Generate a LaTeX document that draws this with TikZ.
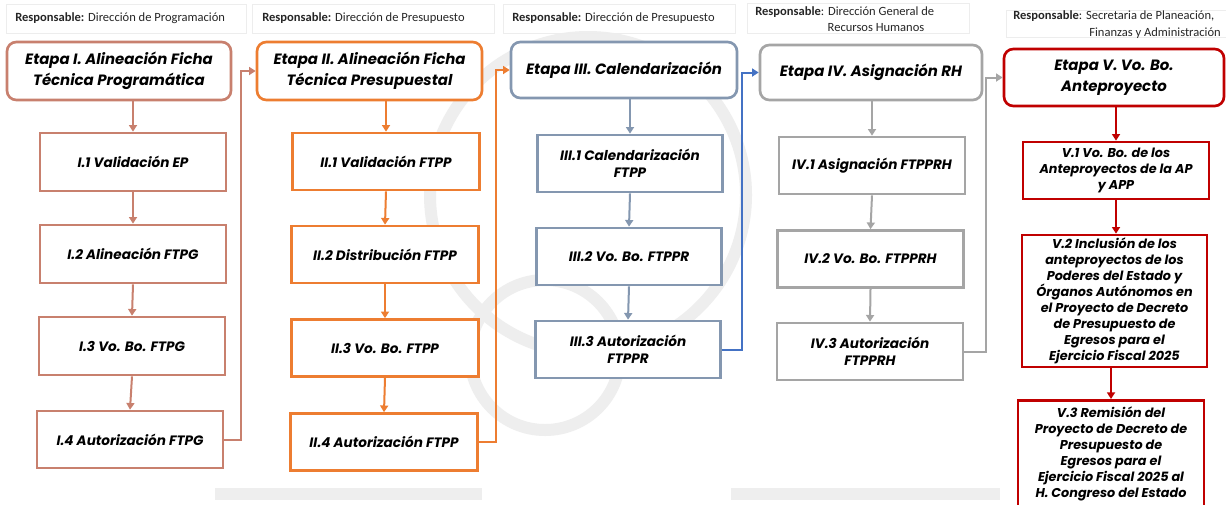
\documentclass[tikz,border=0pt]{standalone}
\usepackage{fontspec}
\usetikzlibrary{arrows.meta}
\setmainfont{Carlito}
\newfontfamily\popfont{Poppins}
\newcommand\etfont{\popfont\bfseries\itshape\fontsize{11.2}{15.5}\selectfont}
\newcommand\subfont{\popfont\bfseries\itshape\fontsize{10.2}{12.4}\selectfont}
\newcommand\subVfont{\popfont\bfseries\itshape\fontsize{9.6}{12}\selectfont}
\newcommand\hdfont{\fontsize{9.4}{12}\selectfont}
\definecolor{colI}{RGB}{200,128,110}
\definecolor{colII}{RGB}{237,125,49}
\definecolor{colIII}{RGB}{132,151,176}
\definecolor{colIIIc}{RGB}{68,114,196}
\definecolor{colIV}{RGB}{165,165,165}
\definecolor{colV}{RGB}{192,0,0}
\definecolor{wmark}{RGB}{238,238,238}
\tikzset{
  sz/.style 2 args={minimum width=#1*0.75pt, minimum height=#2*0.75pt},
  stage/.style={draw, rounded corners=7pt, line width=2pt, fill=white, align=center, font=\etfont, inner sep=1pt},
  sub/.style={draw, line width=2pt, fill=white, align=center, font=\subfont, inner sep=1pt},
  subV/.style={sub, draw=colV, font=\subVfont},
  conn/.style={line width=1.5pt, -{Triangle[width=6pt,length=5pt]}},
  hdr/.style={font=\hdfont, inner sep=0pt, text=black!85},
  hdrbox/.style={draw=black!7, line width=0.6pt},
  wm/.style={draw=wmark, line width=9pt},
}
\begin{document}
\begin{tikzpicture}[x=0.75pt,y=-0.75pt]
\clip (0,0) rectangle (1226,504);
\fill[white] (0,0) rectangle (1226,504);
% faint background emblem
\draw[wm] (588,195) circle[radius=158*0.75pt];
\draw[wm] (545,355) circle[radius=75*0.75pt];
\draw[wm, rounded corners=8pt] (215,494) -- (482,494);
\draw[wm, rounded corners=8pt] (731,494) -- (1000,494);
% header frames
\draw[hdrbox] (6,4) rectangle (246,33);
\draw[hdrbox] (252,4) rectangle (494,33);
\draw[hdrbox] (503,4) rectangle (735,33);
\draw[hdrbox] (747,3) rectangle (969,33);
\draw[hdrbox] (1006,10) rectangle (1226,37);
% headers
\node[hdr, anchor=west] (h1) at (15,18) {\textbf{Responsable:} Dirección de Programación};
\node[hdr, anchor=west] (h2) at (262,18) {\textbf{Responsable:} Dirección de Presupuesto};
\node[hdr, anchor=west] (h3) at (512,18) {\textbf{Responsable:} Dirección de Presupuesto};
\node[hdr, anchor=west] (h4) at (755,12) {\textbf{Responsable}: Dirección General de};
\node[hdr] (h4b) at (876,28) {Recursos Humanos};
\node[hdr, anchor=west] (h5) at (1013,16) {\textbf{Responsable}: Secretaria de Planeación,};
\node[hdr, anchor=east] (h5b) at (1221,33) {Finanzas y Administración};
% stages
\node[stage, draw=colI, sz={224}{58}] (e1) at (119,71) {Etapa I. Alineación Ficha\\Técnica Programática};
\node[stage, draw=colII, sz={225}{58}] (e2) at (369.5,71) {Etapa II. Alineación Ficha\\Técnica Presupuestal};
\node[stage, draw=colIII, sz={226}{56}] (e3) at (624,70) {Etapa III. Calendarización};
\node[stage, draw=colIV, sz={222}{55}] (e4) at (871,72.5) {Etapa IV. Asignación RH};
\node[stage, draw=colV, sz={220}{57}] (e5) at (1114,77.5) {Etapa V. Vo. Bo.\\Anteproyecto};
% column I
\node[sub, draw=colI, sz={186}{58}] (i1) at (133,162) {I.1 Validación EP};
\node[sub, draw=colI, sz={186}{58}] (i2) at (133,254) {I.2 Alineación FTPG};
\node[sub, draw=colI, sz={186}{58}] (i3) at (132,346) {I.3 Vo. Bo. FTPG};
\node[sub, draw=colI, sz={186}{57}] (i4) at (130,439.5) {I.4 Autorización FTPG};
% column II
\node[sub, draw=colII, sz={187}{57}] (ii1) at (386,161.5) {II.1 Validación FTPP};
\node[sub, draw=colII, sz={187}{57}] (ii2) at (385,254.5) {II.2 Distribución FTPP};
\node[sub, draw=colII, sz={187}{57}] (ii3) at (385,348) {II.3 Vo. Bo. FTPP};
\node[sub, draw=colII, sz={187}{57}] (ii4) at (384,442) {II.4 Autorización FTPP};
% column III
\node[sub, draw=colIII, sz={185}{57}] (iii1) at (630,163.5) {III.1 Calendarización\\FTPP};
\node[sub, draw=colIII, sz={185}{57}] (iii2) at (629,256.5) {III.2 Vo. Bo. FTPPR};
\node[sub, draw=colIII, sz={185}{57}] (iii3) at (628,349.5) {III.3 Autorización\\FTPPR};
% column IV
\node[sub, draw=colIV, sz={186}{57}] (iv1) at (872,165.5) {IV.1 Asignación FTPPRH};
\node[sub, draw=colIV, sz={186}{57}] (iv2) at (870.5,259) {IV.2 Vo. Bo. FTPPRH};
\node[sub, draw=colIV, sz={186}{57}] (iv3) at (870,351.5) {IV.3 Autorización\\FTPPRH};
% column V
\node[subV, sz={186}{57}] (v1) at (1116,170.5) {V.1 Vo. Bo. de los\\Anteproyectos de la AP\\y APP};
\node[subV, sz={185}{132}] (v2) at (1114.5,301) {V.2 Inclusión de los\\anteproyectos de los\\Poderes del Estado y\\Órganos Autónomos en\\el Proyecto de Decreto\\de Presupuesto de\\Egresos para el\\Ejercicio Fiscal 2025};
\node[subV, sz={186}{107}, anchor=north] (v3) at (1111,399) {V.3 Remisión del\\Proyecto de Decreto de\\Presupuesto de\\Egresos para el\\Ejercicio Fiscal 2025 al\\H. Congreso del Estado};
% connectors column I
\draw[conn, colI] (i1.north |- e1.south) -- (i1.north);
\draw[conn, colI] (i1.south) -- (i2.north);
\draw[conn, colI] (i2.south) -- (i3.north);
\draw[conn, colI] (i3.south) -- (i4.north);
\draw[conn, colI] (i4.east) -- ++(17,0) |- (e2.west);
% column II
\draw[conn, colII] (ii1.north |- e2.south) -- (ii1.north);
\draw[conn, colII] (ii1.south) -- (ii2.north);
\draw[conn, colII] (ii2.south) -- (ii3.north);
\draw[conn, colII] (ii3.south) -- (ii4.north);
\draw[conn, colII] (ii4.east) -- ++(17,0) |- (e3.west);
% column III
\draw[conn, colIII] (iii1.north |- e3.south) -- (iii1.north);
\draw[conn, colIII] (iii1.south) -- (iii2.north);
\draw[conn, colIII] (iii2.south) -- (iii3.north);
\draw[conn, colIIIc] (iii3.east) -- ++(20,0) |- (e4.west);
% column IV
\draw[conn, colIV] (iv1.north |- e4.south) -- (iv1.north);
\draw[conn, colIV] (iv1.south) -- (iv2.north);
\draw[conn, colIV] (iv2.south) -- (iv3.north);
\draw[conn, colIV] (iv3.east) -- ++(22,0) |- (e5.west);
% column V
\draw[conn, colV] (v1.north |- e5.south) -- (v1.north);
\draw[conn, colV] (v1.south) -- (v1.south |- v2.north);
\draw[conn, colV] (v3.north |- v2.south) -- (v3.north);
\end{tikzpicture}
\end{document}
